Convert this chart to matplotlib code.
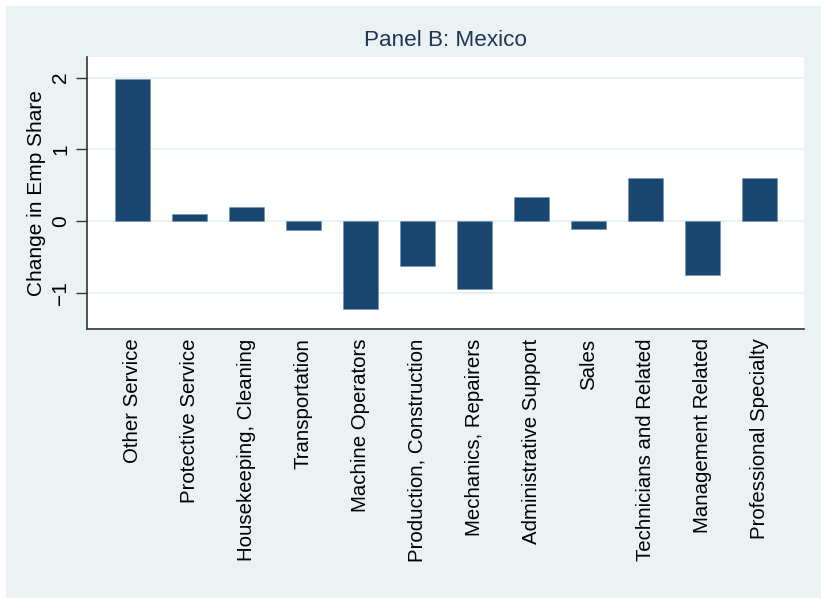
import matplotlib
matplotlib.use('Agg')
import matplotlib.pyplot as plt
from matplotlib.patches import Rectangle
import numpy as np

# --- Data ---
occupations = [
    'Other Service', 'Protective Service', 'Housekeeping, Cleaning',
    'Transportation', 'Machine Operators', 'Production, Construction',
    'Mechanics, Repairers', 'Administrative Support', 'Sales',
    'Technicians and Related', 'Management Related', 'Professional Specialty',
]
emp_share_change = [1.98, 0.10, 0.19, -0.13, -1.22, -0.62,
                    -0.95, 0.34, -0.11, 0.60, -0.75, 0.60]
y_ticks = [-1, 0, 1, 2]
y_tick_labels = ['\u22121', '0', '1', '2']

BG = '#EAF2F3'
BAR = '#1a476f'

plt.rcParams['font.family'] = ['Liberation Sans', 'DejaVu Sans']

fig = plt.figure(figsize=(8.21, 5.98), dpi=100, facecolor='white')
# Stata-style outer panel (thin white margin on top and left)
fig.patches.append(Rectangle((6 / 821, 0), 1, 1 - 6 / 598, transform=fig.transFigure,
                             facecolor=BG, edgecolor='none', zorder=-10))

ax = fig.add_axes([0.1063, 0.4503, 0.8730, 0.4549])
ax.set_facecolor('white')

x = np.arange(len(occupations))
ax.bar(x, emp_share_change, width=0.61, color=BAR, edgecolor='#6f8fb0',
       linewidth=0.4, zorder=3)

ax.set_xlim(-0.79, 11.78)
ax.set_ylim(-1.50, 2.29)

ax.set_yticks(y_ticks)
# anchor at the baseline so the digit's right edge sits exactly at tick - pad
ax.set_yticklabels(y_tick_labels, rotation=90, rotation_mode='anchor',
                   ha='center', va='baseline', fontsize=15)
ax.set_xticks(x)
ax.set_xticklabels(occupations, rotation=90, ha='center', va='top', fontsize=14.7)

ax.tick_params(axis='y', length=8, width=1, color='#333333', pad=7)
ax.tick_params(axis='x', length=0, pad=7)

ax.grid(axis='y', color=BG, linewidth=1.5, zorder=1)
ax.set_axisbelow(True)

for side in ['top', 'right']:
    ax.spines[side].set_visible(False)
for side in ['left', 'bottom']:
    ax.spines[side].set_color('#333333')
    ax.spines[side].set_linewidth(1.2)

ax.set_ylabel('Change in Emp Share', fontsize=15)
ax.yaxis.set_label_coords(-0.057, 0.5)
ax.set_title('Panel B: Mexico', fontsize=16.2, color='#1f3556', pad=8)

fig.savefig('out.png', dpi=100, facecolor=fig.get_facecolor())
